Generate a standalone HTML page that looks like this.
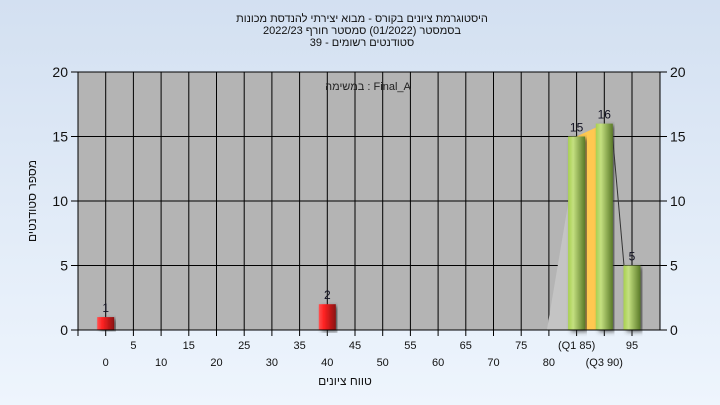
<!DOCTYPE html>
<html><head><meta charset="utf-8"><style>
body{margin:0;width:720px;height:405px;overflow:hidden;background:linear-gradient(#d3e0f1,#eef5fd);font-family:"Liberation Sans","Noto Sans CJK SC",sans-serif}
svg{display:block}
svg text{font-family:"Liberation Sans","Noto Sans CJK SC",sans-serif}
</style></head><body>
<svg id="chart" width="720" height="405" xmlns="http://www.w3.org/2000/svg">
<defs>
<linearGradient id="red" x1="0" x2="1"><stop offset="0" stop-color="#ff5050"/><stop offset="0.3" stop-color="#f22"/><stop offset="1" stop-color="#8a1010"/></linearGradient>
<linearGradient id="green" x1="0" x2="1"><stop offset="0" stop-color="#a8d050"/><stop offset="0.3" stop-color="#c4e080"/><stop offset="1" stop-color="#5a7a28"/></linearGradient>
<filter id="sh"><feDropShadow dx="3" dy="2" stdDeviation="2" flood-color="#333" flood-opacity="0.7"/></filter>
</defs>
<g font-size="11" text-anchor="middle" fill="#111">
<text x="362" y="22" direction="rtl">היסטוגרמת ציונים בקורס - מבוא יצירתי להנדסת מכונות</text>
<text x="362" y="34" direction="rtl">בסמסטר  (01/2022)  סמסטר חורף 2022/23</text>
<text x="362" y="46" direction="rtl">סטודנטים רשומים - 39</text>
</g>
<rect x="78" y="72" width="582" height="258" fill="#b4b4b4"/>
<g id="grid"></g>
<g id="marks"></g>
<rect x="78" y="72" width="582" height="258" fill="none" stroke="#000" stroke-width="1"/>
<text x="368" y="90" font-size="11" text-anchor="middle" fill="#222" direction="ltr">במשימה : Final_A</text>
<g id="axes" font-size="14" fill="#111"></g>
<text x="345" y="385" font-size="12" text-anchor="middle" fill="#111" direction="rtl">טווח ציונים</text>
<text transform="translate(36,201) rotate(-90)" font-size="12" text-anchor="middle" fill="#111" direction="rtl">מספר סטודנטים</text>
</svg>
<script>
const categories=[0,5,10,15,20,25,30,35,40,45,50,55,60,65,70,75,80,85,90,95];
const counts=[1,0,0,0,0,0,0,0,2,0,0,0,0,0,0,0,0,15,16,5];
const barColors=["red","","","","","","","","red","","","","","","","","","green","green","green"];
const catLabels=["0","5","10","15","20","25","30","35","40","45","50","55","60","65","70","75","80","(Q1 85)","(Q3 90)","95"];
const yTicks=[0,5,10,15,20];
const NS="http://www.w3.org/2000/svg";
const X0=78,SLOT=27.7,Y0=330,YH=258,YMAX=20;
function xC(i){return X0+SLOT*(i+1);}
function yS(v){return Y0-v/YMAX*YH;}
function mk(t,a,p){const e=document.createElementNS(NS,t);for(const k in a)e.setAttribute(k,a[k]);p.appendChild(e);return e;}
const grid=document.getElementById('grid'),marks=document.getElementById('marks'),axes=document.getElementById('axes');
for(let i=0;i<=categories.length;i++){const l=mk('line',{x1:X0+SLOT*i,x2:X0+SLOT*i,y1:72,y2:336,stroke:'#000'},grid);

}
yTicks.forEach(v=>{const l=mk('line',{x1:71,x2:660,y1:yS(v),y2:yS(v),stroke:'#000'},grid);


mk('line',{x1:660,x2:667,y1:yS(v),y2:yS(v),stroke:'#000'},grid);
const t=mk('text',{x:68,y:yS(v)+5,'text-anchor':'end'},axes);t.textContent=v;


const t2=mk('text',{x:670,y:yS(v)+5},axes);t2.textContent=v;

});
const iQ1=17,iQ3=18,iMax=19;
const poly=mk('polygon',{points:`${xC(16)-2},${Y0} ${xC(iQ1)-8},${yS(10)} ${xC(iQ1)-8},${Y0}`,fill:'#c4c4c4'},marks);


const box=mk('polygon',{points:`${xC(iQ1)},${yS(counts[iQ1])} ${xC(iQ3)},${yS(counts[iQ3])} ${xC(iQ3)},${Y0} ${xC(iQ1)},${Y0}`,fill:'#ffc850'},marks);


const wl=mk('line',{x1:xC(iQ3)+8,y1:yS(counts[iQ3])+10,x2:xC(iMax)-8,y2:yS(counts[iMax]),stroke:'#333'},marks);


categories.forEach((c,i)=>{
 if(counts[i]>0){
  const r=mk('rect',{x:xC(i)-8.5,y:yS(counts[i]),width:17,height:Y0-yS(counts[i]),fill:`url(#${barColors[i]})`,filter:'url(#sh)'},marks);
  
  
  const t=mk('text',{x:xC(i),y:yS(counts[i])-5,'text-anchor':'middle','font-size':12,fill:'#112'},marks);t.textContent=counts[i];
  
  
 }
 let upper=i%2===1; if(i===iQ1)upper=true; if(i===iQ3)upper=false;
 const t=mk('text',{x:xC(i),y:upper?349:366,'text-anchor':'middle','font-size':11,fill:'#111'},axes);t.textContent=catLabels[i];
 
 
});
</script>
</body></html>
